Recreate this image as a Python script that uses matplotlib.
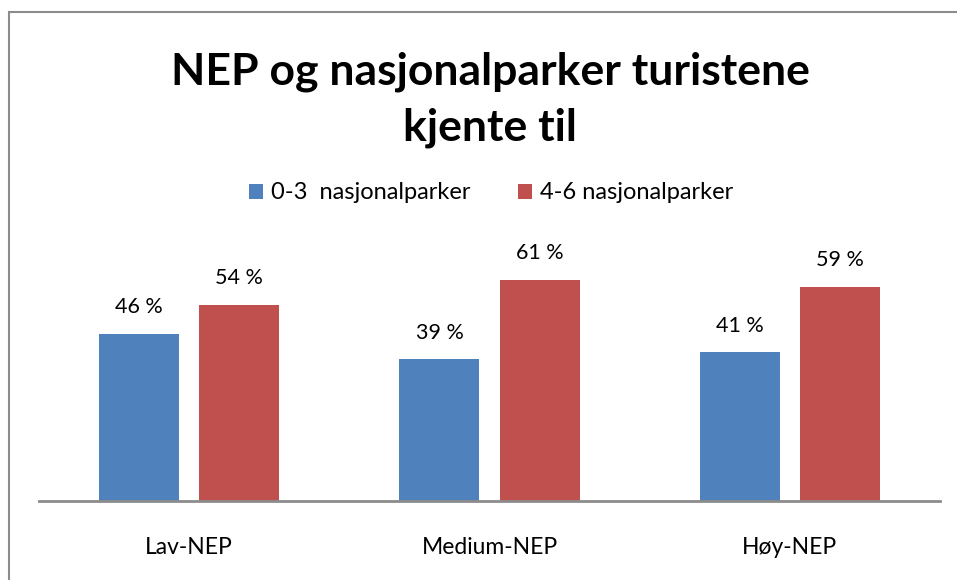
import matplotlib.pyplot as plt
from matplotlib.patches import Rectangle
import numpy as np

# data
kategorier = ['Lav-NEP', 'Medium-NEP', 'Høy-NEP']
serie_navn = ['0-3  nasjonalparker', '4-6 nasjonalparker']
lav_antall = [46, 39, 41]
hoy_antall = [54, 61, 59]
farger = ['#4F81BD', '#C0504D']

plt.rcParams['font.family'] = ['Lato', 'DejaVu Sans']

W, H = 957, 580
fig = plt.figure(figsize=(W / 100, H / 100), dpi=100)

# ramme rundt diagrammet
fig.patches.append(Rectangle((9 / W, -0.1), 1.2, (H - 12) / H + 0.1,
                             transform=fig.transFigure, fill=False,
                             edgecolor='#8c8c8c', linewidth=1.5))

# plot-området: x 39..940, bunnlinje y=501, 3.63 px per %
x0, x1 = 39, 940
y_bunn = 501
px_per = 3.63
y_topp_val = 100
ax = fig.add_axes([x0 / W, (H - y_bunn) / H, (x1 - x0) / W,
                   y_topp_val * px_per / H])

x = np.arange(len(kategorier))
bredde = 80 / 300
forskyv = 50 / 300
b1 = ax.bar(x - forskyv, lav_antall, bredde, color=farger[0], label=serie_navn[0])
b2 = ax.bar(x + forskyv, hoy_antall, bredde, color=farger[1], label=serie_navn[1])

for bars in (b1, b2):
    for b in bars:
        ax.annotate(f'{b.get_height():.0f} %',
                    (b.get_x() + b.get_width() / 2, b.get_height()),
                    xytext=(0, 12), textcoords='offset points',
                    ha='center', va='bottom', fontsize=15.5)

ax.set_xlim(-0.5, 2.5)
ax.set_ylim(0, y_topp_val)
ax.set_xticks(x)
ax.set_xticklabels(kategorier, fontsize=16.5)
ax.tick_params(axis='x', length=0, pad=26)
ax.set_yticks([])
for s in ['top', 'right', 'left']:
    ax.spines[s].set_visible(False)
ax.spines['bottom'].set_color('#8c8c8c')
ax.spines['bottom'].set_linewidth(2)
ax.patch.set_alpha(0)

fig.text(490 / W, 1 - 72 / H, 'NEP og nasjonalparker turistene', ha='center',
         va='center', fontsize=32, fontweight='bold')
fig.text(490 / W, 1 - 128 / H, 'kjente til', ha='center', va='center',
         fontsize=32, fontweight='bold')

fig.legend(handles=[b1, b2], loc='center', bbox_to_anchor=(491 / W, 1 - 193 / H),
           ncol=2, frameon=False, fontsize=17, handlelength=0.6,
           handleheight=0.6, handletextpad=0.35, columnspacing=2.0)

plt.savefig('out.png', dpi=100)
